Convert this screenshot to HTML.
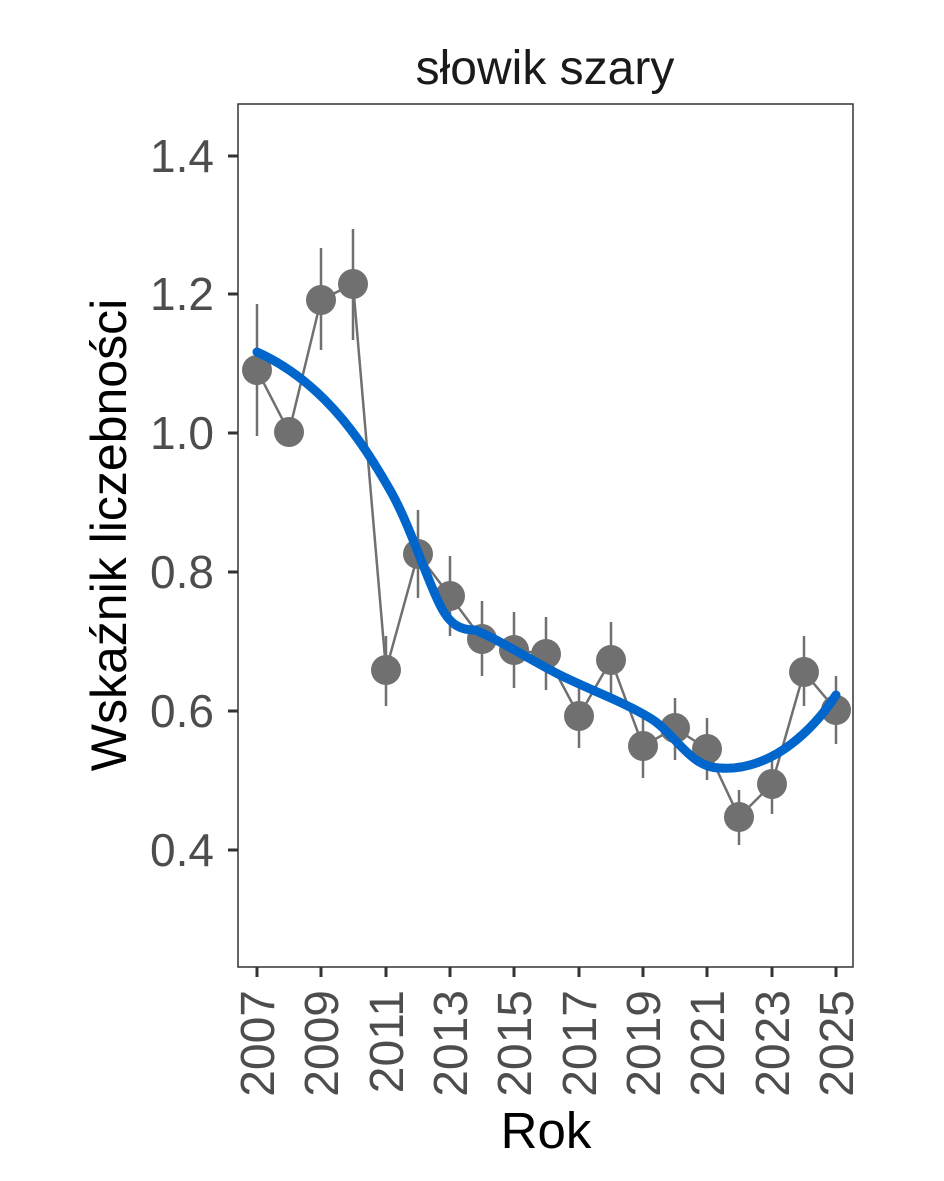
<!DOCTYPE html>
<html><head><meta charset="utf-8"><style>
html,body{margin:0;padding:0;background:#fff;}
svg{display:block;font-family:"Liberation Sans",Arial,sans-serif;}
</style></head><body>
<svg width="944" height="1181" viewBox="0 0 944 1181" xmlns="http://www.w3.org/2000/svg">
<rect width="944" height="1181" fill="#fff"/>
<text x="545" y="84" font-size="48" text-anchor="middle" fill="#1a1a1a">słowik szary</text>
<rect x="238" y="104" width="615" height="863" fill="none" stroke="#333" stroke-width="1.5"/>
<g fill="#4d4d4d" font-size="46" text-anchor="end">
<text x="214" y="172">1.4</text><text x="214" y="310">1.2</text><text x="214" y="449">1.0</text>
<text x="214" y="588">0.8</text><text x="214" y="727">0.6</text><text x="214" y="866">0.4</text>
</g>
<g stroke="#333" stroke-width="3">
<line x1="228" y1="156" x2="238" y2="156"/><line x1="228" y1="294" x2="238" y2="294"/>
<line x1="228" y1="433" x2="238" y2="433"/><line x1="228" y1="572" x2="238" y2="572"/>
<line x1="228" y1="711" x2="238" y2="711"/><line x1="228" y1="850" x2="238" y2="850"/>
<line x1="257" y1="967" x2="257" y2="977"/><line x1="321" y1="967" x2="321" y2="977"/>
<line x1="386" y1="967" x2="386" y2="977"/><line x1="450" y1="967" x2="450" y2="977"/>
<line x1="514" y1="967" x2="514" y2="977"/><line x1="579" y1="967" x2="579" y2="977"/>
<line x1="643" y1="967" x2="643" y2="977"/><line x1="707" y1="967" x2="707" y2="977"/>
<line x1="772" y1="967" x2="772" y2="977"/><line x1="836" y1="967" x2="836" y2="977"/>
</g>
<g fill="#4d4d4d" font-size="48" text-anchor="end">
<text transform="translate(274,990) rotate(-90)">2007</text>
<text transform="translate(338,990) rotate(-90)">2009</text>
<text transform="translate(403,990) rotate(-90)">2011</text>
<text transform="translate(467,990) rotate(-90)">2013</text>
<text transform="translate(531,990) rotate(-90)">2015</text>
<text transform="translate(596,990) rotate(-90)">2017</text>
<text transform="translate(660,990) rotate(-90)">2019</text>
<text transform="translate(724,990) rotate(-90)">2021</text>
<text transform="translate(789,990) rotate(-90)">2023</text>
<text transform="translate(853,990) rotate(-90)">2025</text>
</g>
<text x="546" y="1148" font-size="51" text-anchor="middle" fill="#000">Rok</text>
<text transform="translate(126,535) rotate(-90)" font-size="50" text-anchor="middle" fill="#000">Wskaźnik liczebności</text>
<g stroke="#707070" stroke-width="2.5">
<line x1="257" y1="304" x2="257" y2="436"/><line x1="289" y1="425" x2="289" y2="440"/>
<line x1="321" y1="248" x2="321" y2="350"/><line x1="353" y1="229" x2="353" y2="340"/>
<line x1="386" y1="636" x2="386" y2="706"/><line x1="418" y1="510" x2="418" y2="598"/>
<line x1="450" y1="556" x2="450" y2="636"/><line x1="482" y1="601" x2="482" y2="676"/>
<line x1="514" y1="612" x2="514" y2="688"/><line x1="546" y1="617" x2="546" y2="690"/>
<line x1="579" y1="684" x2="579" y2="748"/><line x1="611" y1="622" x2="611" y2="698"/>
<line x1="643" y1="716" x2="643" y2="778"/><line x1="675" y1="698" x2="675" y2="760"/>
<line x1="707" y1="718" x2="707" y2="780"/><line x1="739" y1="790" x2="739" y2="845"/>
<line x1="772" y1="758" x2="772" y2="814"/><line x1="804" y1="636" x2="804" y2="706"/>
<line x1="836" y1="676" x2="836" y2="744"/>
</g>
<polyline fill="none" stroke="#707070" stroke-width="2.5" points="257,370 289,432 321,300 353,284 386,670 418,554 450,596 482,639 514,650 546,654 579,716 611,660 643,746 675,728 707,749 739,817 772,784 804,672 836,710"/>
<g fill="#707070">
<circle cx="257" cy="370" r="15"/><circle cx="289" cy="432" r="15"/><circle cx="321" cy="300" r="15"/>
<circle cx="353" cy="284" r="15"/><circle cx="386" cy="670" r="15"/><circle cx="418" cy="554" r="15"/>
<circle cx="450" cy="596" r="15"/><circle cx="482" cy="639" r="15"/><circle cx="514" cy="650" r="15"/>
<circle cx="546" cy="654" r="15"/><circle cx="579" cy="716" r="15"/><circle cx="611" cy="660" r="15"/>
<circle cx="643" cy="746" r="15"/><circle cx="675" cy="728" r="15"/><circle cx="707" cy="749" r="15"/>
<circle cx="739" cy="817" r="15"/><circle cx="772" cy="784" r="15"/><circle cx="804" cy="672" r="15"/>
<circle cx="836" cy="710" r="15"/>
</g>
<path fill="none" stroke="#0066cc" stroke-width="9" stroke-linecap="round" d="M257,352 C275,360 300,375 325,400 C350,425 370,455 390,490 C410,525 425,575 440,605 C450,625 460,630 475,630 C500,640 530,660 560,675 C590,690 620,700 650,718 C675,733 690,768 720,768 C745,770 770,760 790,745 C810,730 825,712 836,695"/>
</svg>
</body></html>
